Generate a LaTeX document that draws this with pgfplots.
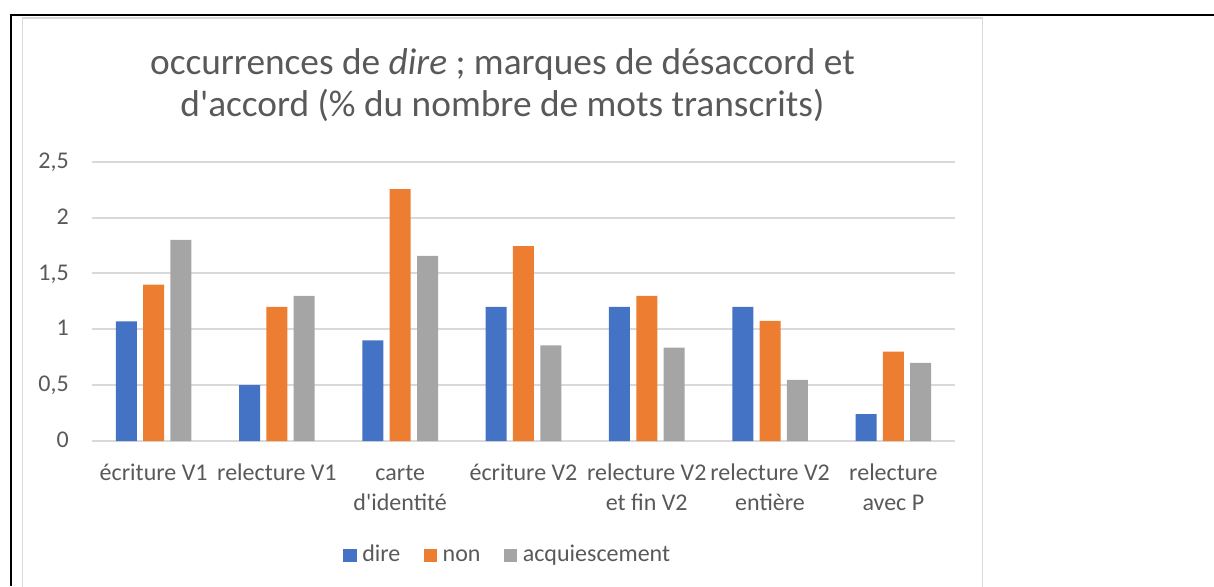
\documentclass[border=0pt]{standalone}
\usepackage{pgfplots}
\pgfplotsset{compat=1.18}
\usepackage{fontspec}
\setmainfont{Carlito}
\definecolor{cblue}{HTML}{4472C4}
\definecolor{corange}{HTML}{ED7D31}
\definecolor{cgray}{HTML}{A5A5A5}
\definecolor{ctext}{HTML}{595959}
\definecolor{cgrid}{HTML}{D9D9D9}
\begin{document}
\begin{tikzpicture}
\useasboundingbox (0,0) rectangle (455.25pt,219.75pt);
% outer frame
\draw[black, line width=0.75pt] (3.75pt,214.125pt) -- (455.25pt,214.125pt);
\draw[black, line width=0.75pt] (4.125pt,214.5pt) -- (4.125pt,0pt);
\draw[cgrid, line width=0.6pt] (8.44pt,-5pt) -- (8.44pt,213pt) -- (368.5pt,213pt) -- (368.5pt,-5pt);
% title
\node[anchor=base, text=ctext, inner sep=0pt, font=\fontsize{14}{16}\selectfont] at (188.4pt,191.9pt) {occurrences de \textit{dire} ; marques de désaccord et};
\node[anchor=base, text=ctext, inner sep=0pt, font=\fontsize{14}{16}\selectfont] at (188.4pt,176.0pt) {d\textquotesingle accord (\% du nombre de mots transcrits)};
\begin{axis}[
  at={(34.5pt,54.375pt)}, anchor=south west,
  scale only axis, width=323.625pt, height=104.74pt,
  xmin=-0.5, xmax=6.5, ymin=0, ymax=2.5,
  enlargelimits=false,
  axis line style={draw=none},
  major tick length=0pt,
  ymajorgrids, grid style={draw=cgrid, line width=0.75pt},
  ytick={0,0.5,1,1.5,2,2.5},
  yticklabel style={/pgf/number format/.cd, use comma, fixed, assume math mode=true, /tikz/.cd, anchor=base east, inner sep=0pt, xshift=-8.5pt, yshift=-2.5pt, text=ctext, font=\fontsize{9}{11.25}\selectfont},
  xtick={0,1,2,3,4,5,6},
  xticklabels={{\strut écriture V1},{\strut relecture V1},{\strut carte\\d\textquotesingle identité},{\strut écriture V2},{\strut relecture V2\\et fin V2},{\strut relecture V2\\entière},{\strut relecture\\avec P}},
  xticklabel style={anchor=north, inner sep=0pt, yshift=-6.75pt, align=center, text=ctext, font=\fontsize{9}{11.25}\selectfont},
  bar width=7.875pt,
  legend columns=3,
  legend style={at={(0.4805,-0.408)}, anchor=center, draw=none, fill=none, font=\fontsize{9}{11.25}\selectfont, text=ctext,
    nodes={inner sep=0pt, anchor=base west},
    /tikz/every odd column/.append style={column sep=2.1pt},
    /tikz/every even column/.append style={column sep=8.7pt}},
  legend image code/.code={\fill[#1] (0pt,-0.43pt) rectangle (5.06pt,4.63pt);},
]
\addplot[ybar, bar shift=-10.24pt, fill=cblue, draw=none] coordinates {(0,1.07) (1,0.5) (2,0.9) (3,1.2) (4,1.2) (5,1.2) (6,0.24)};
\addplot[ybar, bar shift=0pt, fill=corange, draw=none] coordinates {(0,1.4) (1,1.2) (2,2.255) (3,1.745) (4,1.3) (5,1.075) (6,0.8)};
\addplot[ybar, bar shift=10.24pt, fill=cgray, draw=none] coordinates {(0,1.8) (1,1.3) (2,1.657) (3,0.857) (4,0.835) (5,0.547) (6,0.7)};
\legend{dire, non, acquiescement}
\end{axis}
\end{tikzpicture}
\end{document}
